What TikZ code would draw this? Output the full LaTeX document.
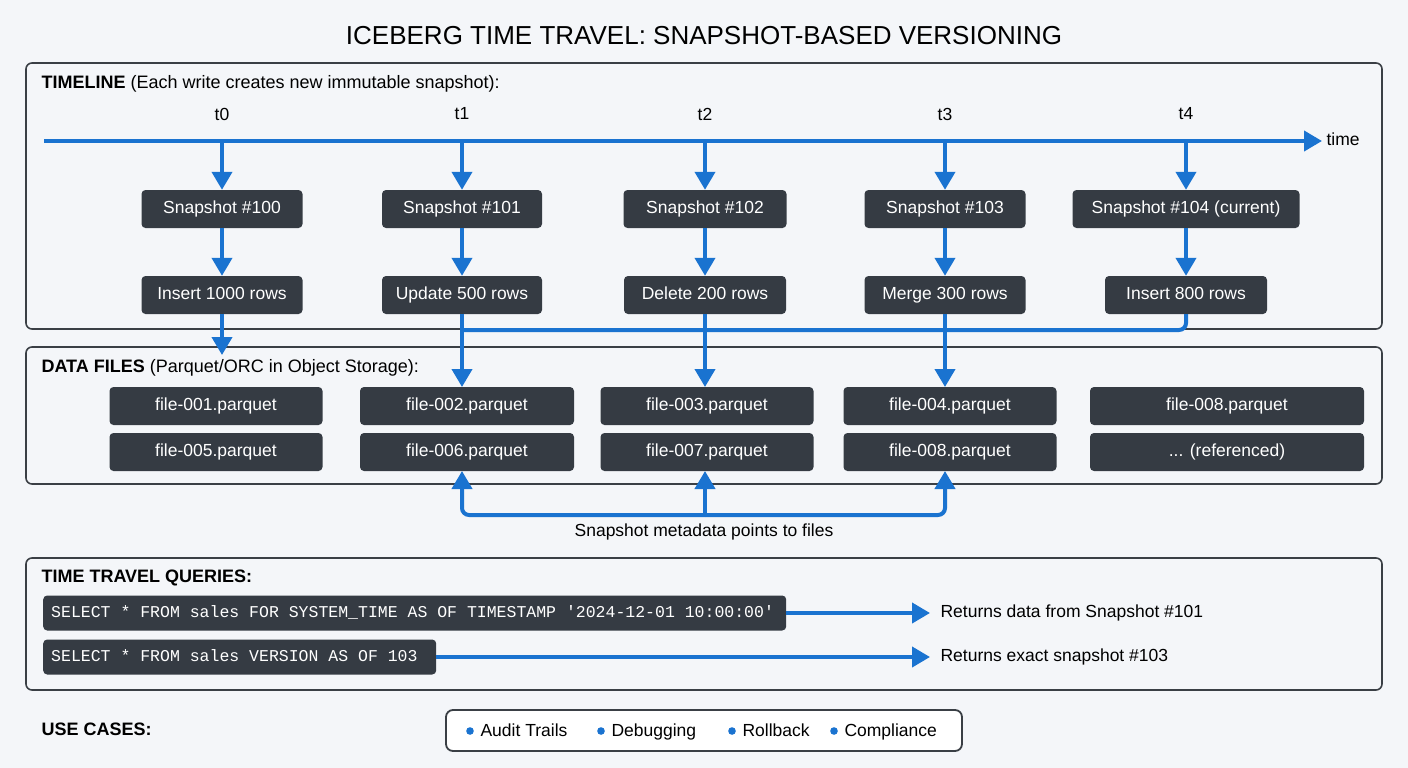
\documentclass[tikz,border=0pt]{standalone}
\usepackage{fontspec}
\setmainfont{Liberation Sans}
\setmonofont[WordSpace={1,0,0}]{Liberation Mono}
\usetikzlibrary{arrows.meta}
\definecolor{bg}{HTML}{F4F6F9}
\definecolor{dk}{HTML}{353B43}
\definecolor{bl}{HTML}{1A73D0}
\definecolor{fr}{HTML}{3A3F45}
\def\refd{... (referenced)}
\tikzset{
 frame/.style={draw=fr,line width=1.6pt,rounded corners=6pt},
 dbox/.style={fill=dk,rounded corners=4pt,text=white,font=\fontsize{17.5}{20}\selectfont,inner sep=0pt,text height=12.5pt,text depth=3.5pt},
 arr/.style={draw=bl,line width=4pt,-{Triangle[width=20pt,length=18pt]},rounded corners=7pt},
 ln/.style={draw=bl,line width=4pt,rounded corners=7pt},
 lab/.style={anchor=west,font=\fontsize{18}{21}\selectfont,text=black,text height=12.5pt,text depth=3.5pt},
}
\begin{document}
\begin{tikzpicture}[x=1pt,y=-1pt]
\fill[bg] (0,0) rectangle (1408,768);
\useasboundingbox (0,0) rectangle (1408,768);
\node (title) at (704,36) {\fontsize{26}{30}\selectfont ICEBERG TIME TRAVEL: SNAPSHOT-BASED VERSIONING};
% frames
\draw[frame] (26,63) rectangle (1382,329);
\draw[frame] (26,347) rectangle (1382,484);
\draw[frame] (26,558) rectangle (1382,690);
\node[lab] (l1) at (38,84) {\textbf{TIMELINE} (Each write creates new immutable snapshot):};
\node[lab] (l2) at (38,368) {\textbf{DATA FILES} (Parquet/ORC in Object Storage):};
\node[lab] (l3) at (38,578) {\textbf{TIME TRAVEL QUERIES:}};
\node[lab] (l4) at (38,731) {\textbf{USE CASES:}};
% time axis
\coordinate (a0) at (44,141);
\coordinate (a1) at (1322,141);
\draw[arr] (a0) -- (a1);
\node[lab,font=\fontsize{17.5}{20}\selectfont] (time) at (1323,141) {time};
\foreach \x/\t/\sw/\sl/\aw/\al/\n in {
 222/t0/161/Snapshot \#100/161/Insert 1000 rows/0,
 462/t1/160/Snapshot \#101/160/Update 500 rows/1,
 705/t2/163/Snapshot \#102/162/Delete 200 rows/2,
 945/t3/161/Snapshot \#103/161/Merge 300 rows/3,
 1186/t4/227/Snapshot \#104 (current)/162/Insert 800 rows/4}{
 \node[font=\fontsize{17.5}{20}\selectfont] (t\n) at (\x,114) {\t};
 \coordinate (ax\n) at (\x,141);
 \node[dbox,minimum width=\sw pt,minimum height=38pt] (s\n) at (\x,209) {\sl};
 \node[dbox,minimum width=\aw pt,minimum height=38pt] (o\n) at (\x,295) {\al};
 \draw[arr] (ax\n) -- (s\n);
 \draw[arr] (s\n) -- (o\n);
}
% files
\foreach \x/\w/\a/\b/\n in {
 216/213/file-001.parquet/file-005.parquet/1,
 467/214/file-002.parquet/file-006.parquet/2,
 707/213/file-003.parquet/file-007.parquet/3,
 950/213/file-004.parquet/file-008.parquet/4,
 1227/274/file-008.parquet/\refd/5}{
 \node[dbox,minimum width=\w pt,minimum height=38pt] (fa\n) at (\x,406) {\a};
 \node[dbox,minimum width=\w pt,minimum height=38pt] (fb\n) at (\x,452) {\b};
}
\coordinate (e0) at (222,355);
\draw[arr] (o0) -- (e0);
\draw[arr] (o1.south) -- (462,387);
\draw[arr] (o2.south) -- (705,387);
\draw[arr] (o3.south) -- (945,387);
\draw[ln] (o4.south) |- (464,330);
% bottom bracket
\coordinate (bm) at (705,515);
\draw[arr] (bm) -| (462,471);
\draw[arr] (bm) -| (945,471);
\draw[arr] (bm) -- (705,471);
\node[font=\fontsize{17.5}{20}\selectfont] (meta) at (704,532) {Snapshot metadata points to files};
% queries
\node[dbox,anchor=west,minimum height=35pt,font=\ttfamily\fontsize{16.5}{18}\selectfont] (q1) at (43,613) {\makebox[743pt][l]{\hspace{8pt}SELECT * FROM sales FOR SYSTEM\_TIME AS OF TIMESTAMP '2024-12-01 10:00:00'}};
\node[dbox,anchor=west,minimum height=35pt,font=\ttfamily\fontsize{16.5}{18}\selectfont] (q2) at (43,657) {\makebox[393pt][l]{\hspace{8pt}SELECT * FROM sales VERSION AS OF 103}};
\coordinate (r1) at (930,613);
\coordinate (r2) at (930,657);
\draw[arr] (q1) -- (r1);
\draw[arr] (q2) -- (r2);
\node[lab,font=\fontsize{17.5}{20}\selectfont] (rt1) at (937,613) {Returns data from Snapshot \#101};
\node[lab,font=\fontsize{17.5}{20}\selectfont] (rt2) at (937,657) {Returns exact snapshot \#103};
% use cases
\draw[draw=fr,line width=1.8pt,fill=white,rounded corners=7pt] (446,710) rectangle (962,751);
\foreach \x/\t/\n in {470/Audit Trails/1,601/Debugging/2,732/Rollback/3,834/Compliance/4}{
 \fill[bl] (\x,731) circle (3.8pt);
 \node[lab,font=\fontsize{17.5}{20}\selectfont] (u\n) at (\x+7,732) {\t};
}
\end{tikzpicture}
\end{document}
